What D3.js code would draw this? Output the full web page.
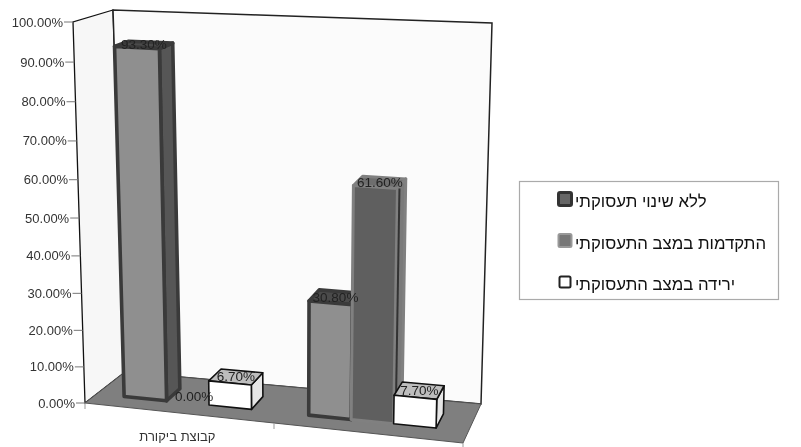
<!DOCTYPE html>
<html>
<head>
<meta charset="utf-8">
<script src="https://cdn.jsdelivr.net/npm/d3@7"></script>
<style>
  html, body { margin: 0; padding: 0; background: #fff; }
  svg { display: block; filter: blur(0.5px); }
  text { font-family: "Liberation Sans", Arial, sans-serif; }
</style>
</head>
<body>
<div id="chart"></div>
<script>
// values
const categories = ["קבוצת ביקורת", ""];
const seriesNames = ["ללא שינוי תעסוקתי", "התקדמות במצב התעסוקתי", "ירידה במצב התעסוקתי"];
const tickValues = [0, 10, 20, 30, 40, 50, 60, 70, 80, 90, 100];
const sameStatus = [93.3, 30.8];
const advanced = [0, 61.6];
const declined = [6.7, 7.7];
const seriesValues = [sameStatus, advanced, declined];

const width = 801, height = 447;
const svg = d3.select("#chart").append("svg").attr("width", width).attr("height", height);

// corners of the 3d box on screen
const floorFront = [[85, 403], [463, 443]];
const floorBack = [[125, 372], [481, 404]];
const lerp = (a, b, t) => a + (b - a) * t;

const yScale = d3.scaleLinear().domain([0, 100]).range([0, 1]);
const groupScale = d3.scaleBand().domain(d3.range(categories.length)).range([-0.004, 0.99]).paddingInner(0.31).paddingOuter(0.155);
const barScale = d3.scaleBand().domain(d3.range(seriesNames.length)).range([0, groupScale.bandwidth()]);

// u across, v up, w into the picture
function project(u, v, w) {
  const fx = lerp(floorFront[0][0], floorFront[1][0], u), fy = lerp(floorFront[0][1], floorFront[1][1], u);
  const bx = lerp(floorBack[0][0], floorBack[1][0], u), by = lerp(floorBack[0][1], floorBack[1][1], u);
  const dx = lerp(-12, 11, u);
  const dy = lerp(381, 400, u) - 19 * w;
  // ticks get closer together towards the floor, perspective
  const h = v - 0.058 * v * (1 - v);
  return [lerp(fx, bx, w) + dx * h, lerp(fy, by, w) - dy * h];
}
const poly = pts => pts.map(p => p.join(",")).join(" ");

// walls and floor
const chart = svg.append("g");
chart.append("polygon").attr("points", poly([project(0, 0, 0), project(0, 1, 0), project(0, 1, 1), project(0, 0, 1)]))
  .attr("fill", "#f7f7f7").attr("stroke", "#111").attr("stroke-width", 1.3);
chart.append("polygon").attr("points", poly([project(0, 0, 1), project(0, 1, 1), project(1, 1, 1), project(1, 0, 1)]))
  .attr("fill", "#fbfbfb").attr("stroke", "#222").attr("stroke-width", 1.5);
chart.append("polygon").attr("points", poly([project(0, 0, 0), project(1, 0, 0), project(1, 0, 1), project(0, 0, 1)]))
  .attr("fill", "#7f7f7f").attr("stroke", "#555").attr("stroke-width", 1);

// value axis on the front left edge
const ticks = chart.append("g").selectAll("g").data(tickValues).enter().append("g");
ticks.append("line")
  .attr("x1", d => project(0, yScale(d), 0)[0] - 9)
  .attr("x2", d => project(0, yScale(d), 0)[0])
  .attr("y1", d => project(0, yScale(d), 0)[1])
  .attr("y2", d => project(0, yScale(d), 0)[1])
  .attr("stroke", "#777");
ticks.append("text")
  .attr("x", d => project(0, yScale(d), 0)[0] - 10)
  .attr("y", d => project(0, yScale(d), 0)[1] + 4.5)
  .attr("text-anchor", "end").attr("font-size", 13).attr("fill", "#333")
  .text(d => d3.format(".2f")(d) + "%");

// category ticks + labels
[0, 0.5, 1].forEach(u => {
  const p = project(u, 0, 0);
  chart.append("line").attr("x1", p[0]).attr("x2", p[0]).attr("y1", p[1]).attr("y2", p[1] + 6).attr("stroke", "#999");
});
chart.selectAll(".cat").data(categories).enter().append("text")
  .attr("class", "cat")
  .attr("x", (d, i) => project(groupScale(i) + groupScale.bandwidth() / 2, 0, 0)[0])
  .attr("y", 441).attr("text-anchor", "middle").attr("direction", "rtl")
  .attr("font-size", 13).attr("fill", "#333").text(d => d);

// bars, left to right so the next one hides the side of the last
const styles = [
  {front: "#8f8f8f", side: "#565656", top: "#4a4a4a", stroke: "#3a3a3a", sw: 3.6},
  {front: "#5f5f5f", side: "#7a7a7a", top: "#6e6e6e", stroke: "#808080", sw: 3},
  {front: "#ffffff", side: "#e6e6e6", top: "#bdbdbd", stroke: "#111111", sw: 1.6}
];
const w0 = 0.3, w1 = 0.67;
const bars = [];
categories.forEach((c, i) => seriesValues.forEach((vals, s) => bars.push({i, s, value: vals[i]})));

const labels = [];
bars.forEach(d => {
  const st = styles[d.s];
  const u0 = groupScale(d.i) + barScale(d.s), u1 = u0 + barScale.bandwidth();
  const v = yScale(d.value);
  labels.push({d, p: project((u0 + u1) / 2, v, (w0 + w1) / 2)});
  if (d.value === 0) return;
  const g = chart.append("g").attr("stroke", st.stroke).attr("stroke-width", st.sw).attr("stroke-linejoin", "round");
  g.append("polygon").attr("points", poly([project(u1, 0, w0), project(u1, v, w0), project(u1, v, w1), project(u1, 0, w1)])).attr("fill", st.side);
  g.append("polygon").attr("points", poly([project(u0, v, w0), project(u1, v, w0), project(u1, v, w1), project(u0, v, w1)])).attr("fill", st.top);
  g.append("polygon").attr("points", poly([project(u0, 0, w0), project(u1, 0, w0), project(u1, v, w0), project(u0, v, w0)])).attr("fill", st.front);
  // the dark bar has a black line down its right edge
  if (d.s === 1) {
    const a = project(u1, 0, w0), b = project(u1, v, w0);
    g.append("line").attr("x1", a[0] + 2).attr("y1", a[1]).attr("x2", b[0] + 2).attr("y2", b[1]).attr("stroke", "#333").attr("stroke-width", 2);
  }
});

// data labels sit on the bar tops
chart.selectAll(".val").data(labels).enter().append("text")
  .attr("class", "val")
  .attr("x", l => l.p[0])
  .attr("y", l => l.p[1] + 4.5)
  .attr("text-anchor", "middle").attr("font-size", 13.5).attr("fill", "#222")
  .text(l => d3.format(".2f")(l.d.value) + "%");

// legend
const legend = svg.append("g");
legend.append("rect").attr("x", 519.5).attr("y", 181.5).attr("width", 259).attr("height", 118)
  .attr("fill", "#fff").attr("stroke", "#aaa").attr("stroke-width", 1.2);
const legendY = d3.scalePoint().domain(seriesNames).range([199, 282]);
const swatches = [
  {fill: "#666", stroke: "#333", sw: 3, size: 13},
  {fill: "#777", stroke: "#999", sw: 2, size: 13},
  {fill: "#fff", stroke: "#222", sw: 2, size: 11}
];
const items = legend.selectAll("g").data(seriesNames).enter().append("g");
items.append("rect")
  .attr("x", (d, i) => 565 - swatches[i].size / 2)
  .attr("y", (d, i) => legendY(d) - swatches[i].size / 2)
  .attr("width", (d, i) => swatches[i].size)
  .attr("height", (d, i) => swatches[i].size)
  .attr("rx", 1.5)
  .attr("fill", (d, i) => swatches[i].fill)
  .attr("stroke", (d, i) => swatches[i].stroke)
  .attr("stroke-width", (d, i) => swatches[i].sw);
items.append("text")
  .attr("x", 575)
  .attr("y", d => legendY(d) + 8)
  .attr("direction", "rtl").attr("text-anchor", "end")
  .attr("font-size", 16.8).attr("fill", "#111")
  .text(d => d);
</script>
</body>
</html>
